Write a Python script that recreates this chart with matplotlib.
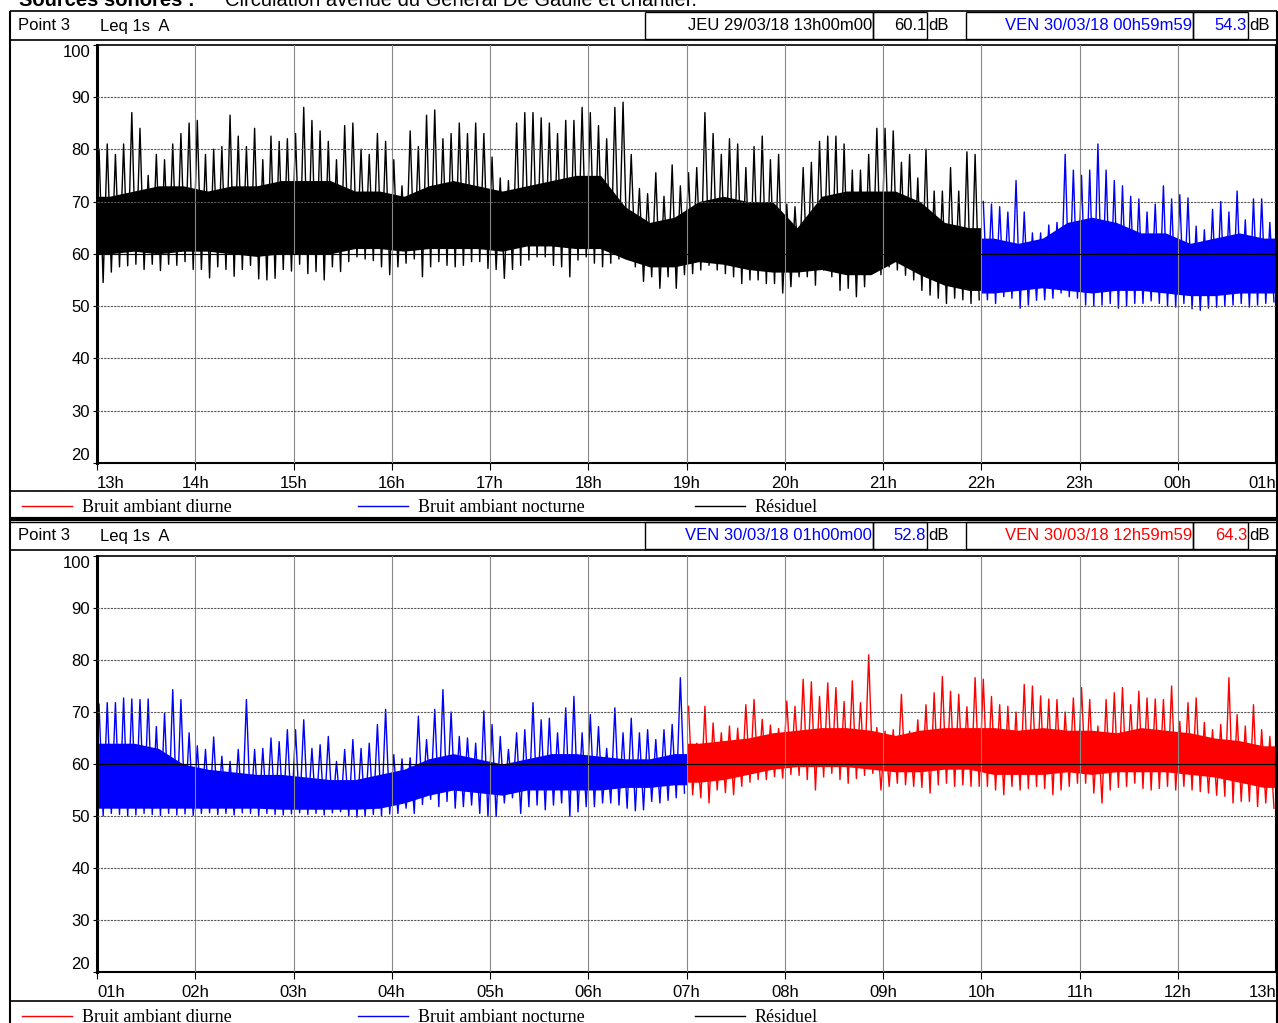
import numpy as np
import matplotlib.pyplot as plt

W, H = 1278, 1023

# Heures affichées (axe x) : 12 h par graphique
heures_haut = ["13h", "14h", "15h", "16h", "17h", "18h", "19h", "20h", "21h", "22h", "23h", "00h", "01h"]
heures_bas = ["01h", "02h", "03h", "04h", "05h", "06h", "07h", "08h", "09h", "10h", "11h", "12h", "13h"]

# Graphique du haut : pics et creux par tranche de 5 min (dB)
pic_haut = [
    80, 81, 79, 81, 87, 84, 75, 79, 78, 81, 83, 85,
    85.5, 79, 80, 80.5, 86.5, 82.5, 80.5, 84, 78, 82.5, 81.5, 82,
    83, 88, 85.5, 83.5, 81.5, 78, 84.5, 85, 80, 79, 83, 81.5,
    78, 73, 83.5, 80.5, 86.5, 87.5, 82, 83, 85, 83, 85, 83,
    78.5, 74.5, 74, 85, 87, 87, 86, 85, 83, 85.5, 85.5, 88,
    87, 84.5, 82, 88, 89, 79, 72.5, 71.5, 75.5, 71, 77, 73,
    75.5, 76.5, 87, 83, 79, 82, 81, 76.5, 80.5, 82.5, 78, 79,
    69.5, 69, 76.5, 77.5, 81.5, 82.5, 82.5, 81, 76, 76, 79, 84,
    84, 83.5, 77.5, 79, 74.5, 80, 72, 72, 76.5, 72, 79.5, 79,
    70, 69.5, 69, 68, 74, 68, 64, 64, 65.5, 66, 79, 76,
    75, 76, 81, 76, 74, 73, 71, 70.5, 68, 69.5, 73, 70.5,
    71.3, 70.7, 65.3, 64.6, 68.5, 70, 68, 72, 66.5, 70.5, 70.5, 66,
]
creux_haut = [
    54.5, 56.5, 57.5, 57.7, 58, 57, 58, 56.8, 58, 57.8, 58.5, 57,
    57, 55.4, 57.5, 57, 55.7, 57, 57.8, 55.2, 55, 55.3, 57, 56.7,
    58, 56.2, 56.6, 55, 57.5, 56.6, 58.5, 59.4, 59, 58.7, 57.5, 56,
    57.5, 58.2, 59, 55.6, 57.5, 58.5, 57.8, 57.5, 57.8, 58.5, 58.5, 57.2,
    57, 55.3, 57, 57.8, 58.8, 59.4, 59.4, 57.8, 57.5, 55.6, 58.8, 59.4,
    58.2, 57.5, 58.2, 59, 59.4, 57.5, 54.7, 55.6, 53.4, 55.6, 53.4, 56,
    56.2, 56.9, 57.8, 56.9, 56.2, 55.6, 54.3, 55, 55, 54.3, 54.3, 52.5,
    53.7, 55.6, 55.6, 54, 56.9, 55.6, 53, 53.4, 51.8, 53.7, 56.9, 56,
    57.5, 56.9, 55.9, 55, 53, 52.1, 51.5, 50.5, 51.5, 51.2, 50.5, 51.2,
    51.2, 50.5, 51.8, 51.5, 49.6, 50.2, 51.1, 51.2, 51.5, 52.5, 51.8, 51.5,
    50.2, 50, 50.2, 50.5, 49.6, 50, 50.5, 50.5, 51, 50.5, 50, 49.8,
    50.5, 49.5, 49.2, 49.6, 49.8, 50, 50.2, 50.5, 49.8, 50.2, 50.5, 50.8,
]
# bande dense par quart d'heure
sup_haut = [71, 72, 73, 73, 72, 73, 73, 74, 74, 74, 72, 72, 71, 73, 74, 73,
            72, 73, 74, 75, 75, 69, 66, 67, 70, 71, 70, 70, 65, 71, 72, 72,
            72, 70, 66, 65, 63, 62, 63, 66, 67, 66, 64, 64, 62, 63, 64, 63]
inf_haut = [60, 60.5, 60, 60.5, 60.5, 60, 59.5, 60, 60, 60, 61, 61, 60.5, 61, 61, 61,
            60.5, 61.5, 61.5, 61, 61, 59, 57.5, 57.5, 58.5, 58, 57, 56.5, 56.5, 57, 56, 56,
            58.5, 56, 54, 53, 52.5, 53, 53.5, 53, 52.5, 53, 53, 52.5, 52, 52, 52.5, 52.5]

# Graphique du bas
pic_bas = [
    71.5, 71.8, 71.8, 72.7, 72.5, 72.4, 72.5, 67.2, 69.8, 74.3, 72.4, 66,
    63.5, 62.8, 65.2, 61.5, 60.5, 62.8, 72.4, 62.8, 63, 65, 64.3, 66.6,
    66.6, 68.5, 63, 63.7, 65.3, 60.5, 62.8, 64.7, 63, 64, 67.6, 70.5,
    61.8, 61, 61.2, 69.2, 64.7, 70.5, 74.3, 70, 65.3, 65, 64, 70.2,
    67.6, 65.3, 62.8, 66, 66.6, 71.8, 68.5, 68.8, 66, 70.8, 73, 66,
    69.5, 67.2, 63, 70.8, 66, 68.8, 66, 66.6, 64.7, 66.6, 67.6, 76.6,
    71.1, 64, 71.1, 67.9, 66, 67.3, 66.9, 71.4, 72.4, 68.6, 67.5, 66.8,
    72.1, 71.1, 76.3, 75.8, 73, 75.6, 74.7, 72, 76, 71.8, 81, 67,
    66.3, 66.6, 73.4, 66.3, 68.5, 71.4, 73.7, 76.8, 74, 73.4, 71, 76.6,
    76.3, 73, 71.4, 71.1, 70, 75.3, 75, 73.1, 72.5, 72.4, 70, 72.7,
    74.7, 72.4, 67.3, 72.4, 73.7, 74.7, 71.4, 74, 72.7, 72.5, 72.4, 75,
    68.2, 71.8, 72.7, 68, 66.6, 67.6, 76.6, 69.5, 67.3, 71.4, 66.6, 65.3,
]
creux_bas = [
    50, 50.5, 50.3, 50, 50.2, 50.5, 50.3, 50.1, 50.5, 50.2, 50.4, 50.1,
    50.5, 50.6, 50.3, 50.5, 50.2, 50.6, 50.5, 50.1, 50.5, 50.3, 50.2, 50.4,
    50.6, 50.3, 50.5, 50.2, 50.6, 50.8, 50, 49.8, 49.9, 50.3, 50, 50.4,
    50.5, 51.5, 50.5, 52.2, 53.2, 51.8, 52.8, 51.5, 51.8, 52.1, 50.5, 49.9,
    49.9, 52.5, 53.5, 50.5, 51.8, 52.1, 51.2, 52.1, 52.5, 49.9, 50.8, 51.8,
    51.8, 52.5, 52.5, 52.1, 51.5, 51, 51.2, 52.8, 52.5, 53, 53.5, 54.4,
    54.1, 53.5, 52.5, 55, 54.5, 54.1, 55.7, 56.5, 57, 57, 57.6, 57.3,
    58, 57.8, 57, 55, 57.5, 58.2, 57, 56.3, 57.2, 57.8, 58.2, 55,
    55.7, 56.3, 56, 55.7, 55.5, 54.4, 56, 56.3, 55.7, 56, 55.7, 55.7,
    55.7, 55, 54.1, 55.7, 55, 55.3, 55.7, 55.3, 54.1, 55, 55.7, 56.3,
    56.3, 54.4, 52.5, 55, 55.5, 55.7, 56.3, 55.3, 55, 55.3, 55.7, 55,
    55.7, 55, 54.7, 54.4, 54, 53.8, 52.5, 52.8, 52.8, 51.8, 52.5, 51.5,
]
sup_bas = [64, 64, 63, 60, 59, 58.5, 58, 58, 57.5, 57, 57, 58, 59, 61, 62, 61,
           60, 61, 62, 62, 61.5, 61, 61, 62, 64, 64.5, 65, 66, 66.5, 67, 67, 66.5,
           65.5, 66.5, 67, 67, 67, 66.5, 67, 66.5, 66.5, 66, 67, 66.5, 66, 65, 64.5, 63.5]
inf_bas = [51.5, 51.5, 51.5, 51.5, 51.5, 51.5, 51.5, 51.3, 51.3, 51.3, 51.3, 51.5, 52.5, 54, 55, 54.5,
           54, 55, 55, 55, 55, 55.5, 55.5, 56, 56.5, 57, 58, 59, 59.5, 59.5, 59.5, 59,
           58.5, 58.5, 59, 59, 58, 58, 58, 58.5, 58, 58.5, 58.5, 58.5, 58, 57.5, 56.5, 55.5]


def tracer(ax, pic, creux, sup, inf, coupure, couleurs):
    pic, creux = np.array(pic), np.array(creux)
    sup, inf = np.array(sup), np.array(inf)
    t5 = np.arange(len(pic)) / 12
    t15 = (np.arange(len(sup)) + 0.5) / 4
    n5, n15 = int(coupure * 12), int(coupure * 4)
    morceaux = [(0, n5, 0, n15, 0, coupure), (n5, len(pic), n15, len(sup), coupure, 12)]
    for (a5, b5, a15, b15, t0, t1), c in zip(morceaux, couleurs):
        tt = np.concatenate([[t0], t15[a15:b15], [t1]])
        ss = np.concatenate([[sup[a15]], sup[a15:b15], [sup[b15 - 1]]])
        ii = np.concatenate([[inf[a15]], inf[a15:b15], [inf[b15 - 1]]])
        ax.fill_between(tt, ii, ss, color=c, lw=0, zorder=2)
        # signal en dents de scie : un pic puis un creux dans chaque tranche de 5 min
        tz = np.column_stack([t5[a5:b5] + 0.25 / 12, t5[a5:b5] + 0.75 / 12]).ravel()
        vz = np.column_stack([pic[a5:b5], creux[a5:b5]]).ravel()
        ax.plot(tz, vz, color=c, lw=1.0, zorder=2)


def axe(y_haut, y_bas, labels):
    ax = fig.add_axes([97 / W, 1 - y_bas / H, (1276 - 97) / W, (y_bas - y_haut) / H])
    ax.set_xlim(0, 12)
    ax.set_ylim(20, 100)
    ax.set_yticks(range(20, 101, 10))
    ax.set_xticks(range(13))
    ax.set_xticklabels(labels, fontsize=12, family="Liberation Sans")
    ax.set_yticklabels([str(v) for v in range(20, 101, 10)], fontsize=12, family="Liberation Sans")
    xl = ax.get_xticklabels()
    xl[0].set_ha("left")
    xl[-1].set_ha("right")
    yl = ax.get_yticklabels()
    yl[0].set_va("bottom")
    yl[-1].set_va("top")
    ax.tick_params(axis="x", length=5, pad=4.5, width=0.8)
    ax.tick_params(axis="y", length=3, pad=2, width=0.8)
    for v in range(1, 12):
        ax.axvline(v, color="#888888", lw=0.8, zorder=3)
    for v in range(30, 100, 10):
        ax.axhline(v, color="#555555", lw=0.8, ls=(0, (2, 1)), zorder=3)
    ax.axhline(60, color="black", lw=0.8, zorder=3)
    ax.spines["left"].set_linewidth(2.2)
    ax.spines["bottom"].set_linewidth(1.5)
    ax.spines["top"].set_linewidth(1.2)
    ax.spines["right"].set_linewidth(1.5)
    return ax


fig = plt.figure(figsize=(W / 100, H / 100), dpi=100)

ax1 = axe(44.6, 463, heures_haut)
tracer(ax1, pic_haut, creux_haut, sup_haut, inf_haut, 9, ["black", "blue"])
ax2 = axe(556, 972, heures_bas)
tracer(ax2, pic_bas, creux_bas, sup_bas, inf_bas, 6, ["blue", "red"])

# cadres, en-têtes et légendes en pixels
ov = fig.add_axes([0, 0, 1, 1])
ov.set_xlim(0, W)
ov.set_ylim(H, 0)
ov.axis("off")
ov.patch.set_alpha(0)

sans = "Liberation Sans"
serif = "Liberation Serif"

ov.text(195, 6, "Sources sonores :", fontsize=14.5, weight="bold", ha="right", va="baseline", family=sans)
ov.text(225, 6, "Circulation avenue du Général De Gaulle et chantier.", fontsize=14.5, va="baseline", family=sans)


def ligne(x0, x1, y0, y1, lw=1.0):
    ov.plot([x0, x1], [y0, y1], color="black", lw=lw, solid_capstyle="butt")


def boite(x0, x1, y0, y1):
    ligne(x0, x1, y0, y0)
    ligne(x0, x1, y1, y1)
    ligne(x0, x0, y0, y1)
    ligne(x1, x1, y0, y1)


# cadre général
ligne(10, 10, 11, H, 1.5)
ligne(1277, 1277, 11, H, 1.5)
ligne(10, 1277, 11, 11, 1.2)
ligne(10, 1277, 40, 40, 1.2)
ligne(10, 1277, 491, 491, 1.2)
ligne(10, 1277, 518.5, 518.5, 3)
ligne(10, 1277, 521.5, 521.5, 1.0)
ligne(10, 1277, 550, 550, 1.2)
ligne(10, 1277, 1001, 1001, 1.2)

entetes = [
    (26, ["JEU 29/03/18 13h00m00", "60.1"], ["black", "black"],
     ["VEN 30/03/18 00h59m59", "54.3"], ["blue", "blue"]),
    (536, ["VEN 30/03/18 01h00m00", "52.8"], ["blue", "blue"],
     ["VEN 30/03/18 12h59m59", "64.3"], ["red", "red"]),
]
for yc, t1, c1, t2, c2 in entetes:
    ov.text(18, yc, "Point 3", fontsize=12, va="center", family=sans)
    ov.text(100, yc, "Leq 1s  A", fontsize=12, va="center", family=sans)
    for x0, x1, x2, txt, col in [(645, 873, 927, t1, c1), (966, 1193, 1248, t2, c2)]:
        boite(x0, x1, yc - 14, yc + 13)
        boite(x1, x2, yc - 14, yc + 13)
        ov.text(x1 - 1, yc, txt[0], color=col[0], fontsize=12, ha="right", va="center", family=sans)
        ov.text(x2 - 1, yc, txt[1], color=col[1], fontsize=12, ha="right", va="center", family=sans)
        ov.text(x2 + 1, yc, "dB", fontsize=12, va="center", family=sans)

legende = [("red", "Bruit ambiant diurne", 22), ("blue", "Bruit ambiant nocturne", 358),
           ("black", "Résiduel", 695)]
for yc in [506, 1016]:
    for c, txt, x0 in legende:
        ov.plot([x0, x0 + 50], [yc, yc], color=c, lw=1.0)
        ov.text(x0 + 60, yc + 2, txt, fontsize=13, va="center", family=serif)

fig.savefig("out.png", dpi=100)
